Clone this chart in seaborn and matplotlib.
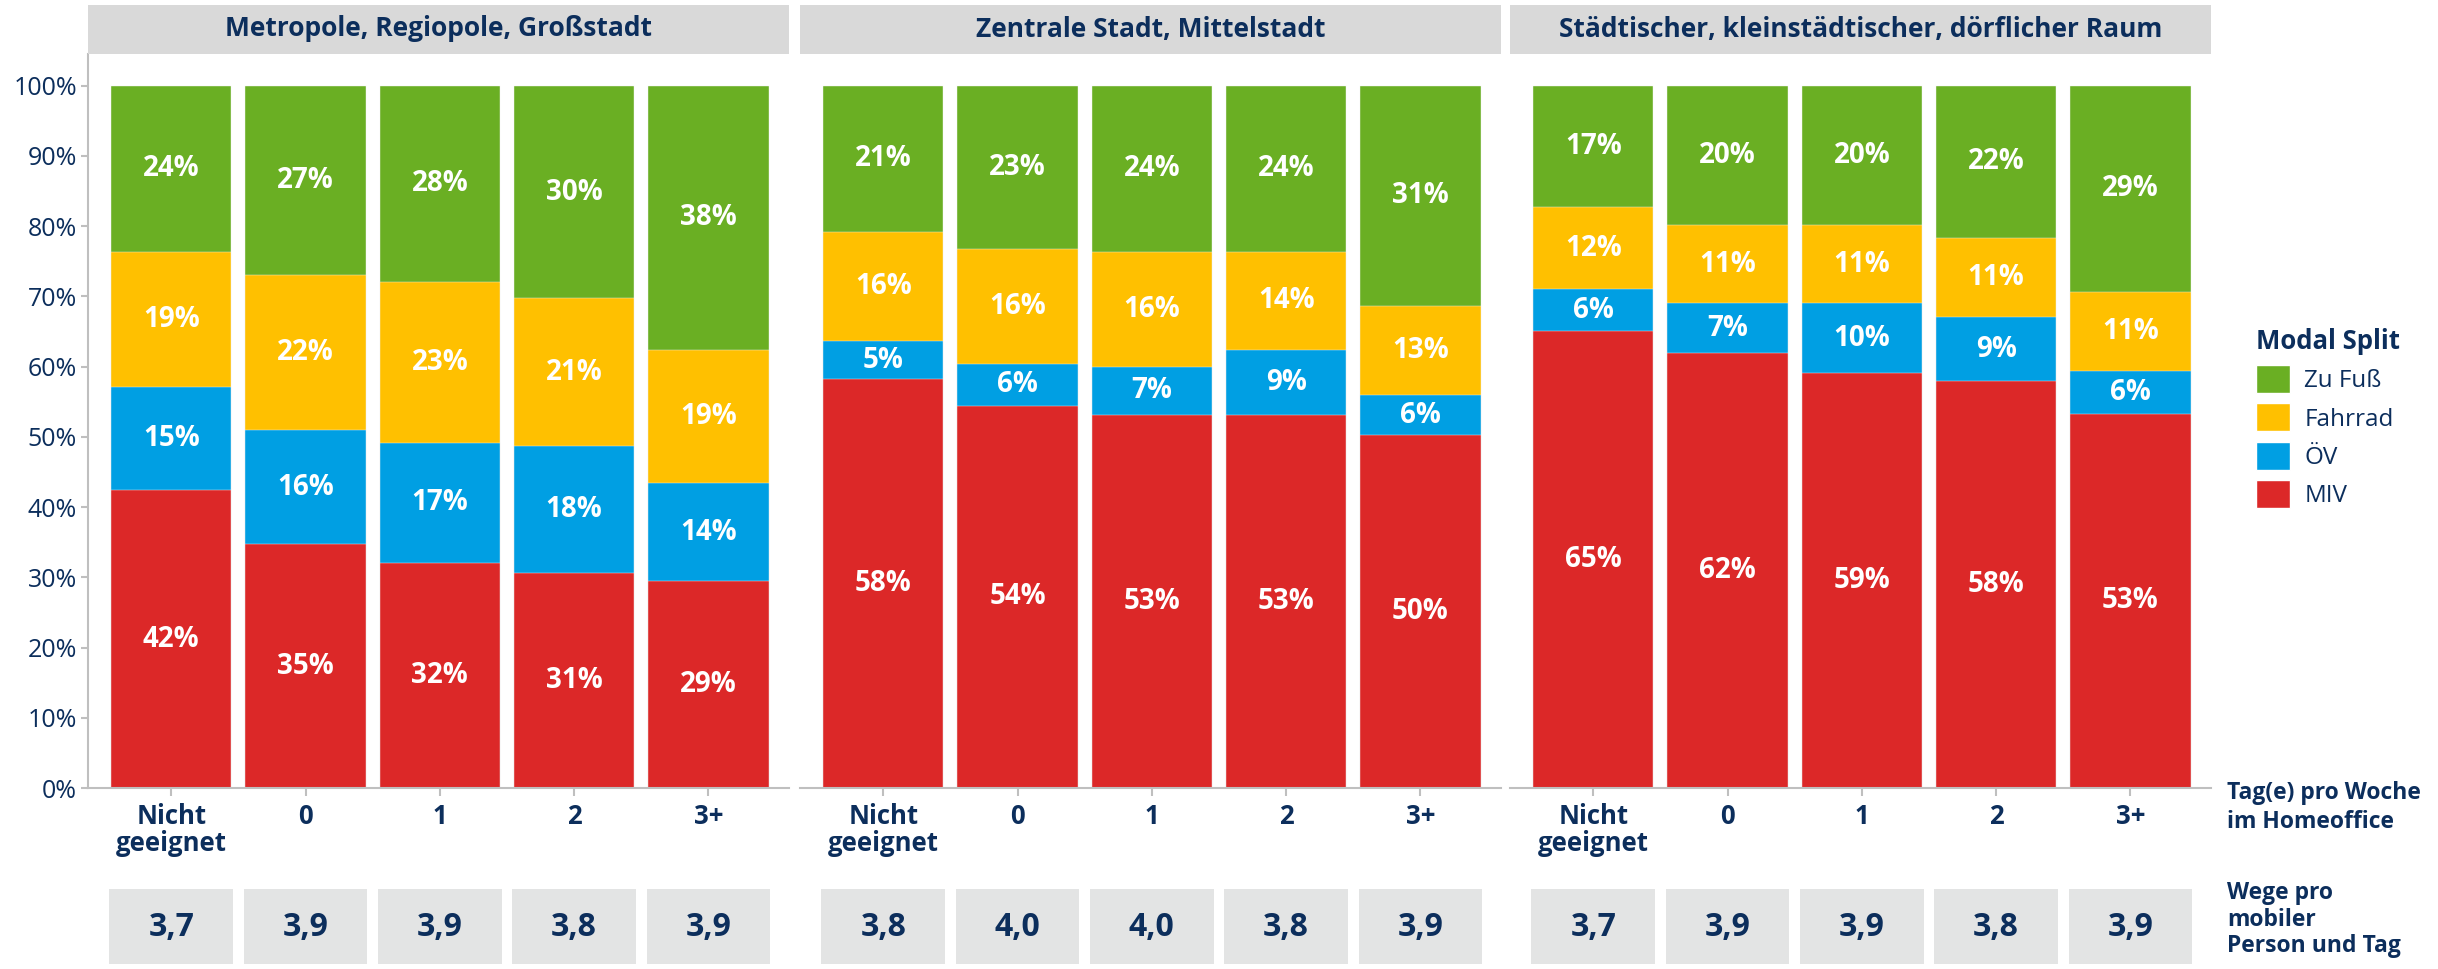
import matplotlib
matplotlib.use("Agg")
import matplotlib.pyplot as plt
import matplotlib.transforms as mtransforms
from matplotlib.patches import Rectangle, Patch
import numpy as np
import pandas as pd
import seaborn as sns

# --- data ---
areas = ["Metropole, Regiopole, Großstadt",
         "Zentrale Stadt, Mittelstadt",
         "Städtischer, kleinstädtischer, dörflicher Raum"]
ho_cats = ["Nicht\ngeeignet", "0", "1", "2", "3+"]
modes = ["MIV", "ÖV", "Fahrrad", "Zu Fuß"]

miv = [[42.4, 34.7, 32.1, 30.6, 29.4],
       [58.2, 54.4, 53.1, 53.1, 50.2],
       [65.0, 61.9, 59.1, 58.0, 53.3]]
oev = [[14.7, 16.2, 17.0, 18.1, 14.0],
       [5.4, 6.0, 6.9, 9.3, 5.8],
       [6.0, 7.1, 9.9, 9.0, 6.0]]
rad = [[19.2, 22.1, 23.0, 21.0, 19.0],
       [15.6, 16.4, 16.3, 13.9, 12.6],
       [11.7, 11.1, 11.1, 11.3, 11.3]]
fuss = [[23.7, 27.0, 27.9, 30.3, 37.6],
        [20.8, 23.2, 23.7, 23.7, 31.4],
        [17.3, 19.9, 19.9, 21.7, 29.4]]
wege = [["3,7", "3,9", "3,9", "3,8", "3,9"],
        ["3,8", "4,0", "4,0", "3,8", "3,9"],
        ["3,7", "3,9", "3,9", "3,8", "3,9"]]

colors = {"MIV": "#DC2828", "ÖV": "#009FE3", "Fahrrad": "#FFC000", "Zu Fuß": "#6AAF23"}
navy = "#0C2E5C"
grey_line = "#BFBFBF"

rows = []
for a, area in enumerate(areas):
    for i, cat in enumerate(ho_cats):
        vals = [miv[a][i], oev[a][i], rad[a][i], fuss[a][i]]
        cum = np.cumsum(vals)
        for m, mode in enumerate(modes):
            rows.append({"area": area, "ho": cat, "mode": mode,
                         "value": vals[m], "cum": cum[m]})
df = pd.DataFrame(rows)

sns.set_theme(style="white")
plt.rcParams["font.family"] = ["Open Sans", "DejaVu Sans"]

W, H = 2438, 969
fig = plt.figure(figsize=(W / 100, H / 100), dpi=100)

panel_x = [88, 800, 1510]
panel_w = 701
ax_bottom, ax_top = 788, 54

for a, area in enumerate(areas):
    ax = fig.add_axes([panel_x[a] / W, (H - ax_bottom) / H,
                       panel_w / W, (ax_bottom - ax_top) / H])
    sub = df[df["area"] == area]
    # overlapping cumulative bars, drawn from the top layer down
    for mode in reversed(modes):
        part = sub[sub["mode"] == mode]
        sns.barplot(data=part, x="ho", y="cum", order=ho_cats, color=colors[mode],
                    saturation=1, width=0.895, errorbar=None, ax=ax,
                    edgecolor="#F4F4F4", linewidth=0.3)
    for _, r in sub.iterrows():
        i = ho_cats.index(r["ho"])
        ax.text(i, r["cum"] - r["value"] / 2, f"{r['value']:.0f}%",
                ha="center", va="center", color="white",
                fontsize=20, fontweight="bold")

    ax.set_xlim(-0.62, 4.6)
    ax.set_ylim(0, 104.5)
    ax.set_xlabel("")
    ax.set_ylabel("")
    for s in ["top", "right"]:
        ax.spines[s].set_visible(False)
    ax.spines["bottom"].set_color(grey_line)
    ax.spines["bottom"].set_linewidth(1.5)
    ax.tick_params(axis="x", bottom=True, length=6, width=1.5, color=grey_line,
                   labelsize=18.5, labelcolor=navy, pad=5)
    for lbl in ax.get_xticklabels():
        lbl.set_fontweight("bold")
        lbl.set_linespacing(1.0)
    ax.set_yticks(np.arange(0, 101, 10))
    if a == 0:
        ax.spines["left"].set_color(grey_line)
        ax.spines["left"].set_linewidth(1.5)
        ax.set_yticklabels([f"{v}%" for v in range(0, 101, 10)])
        ax.tick_params(axis="y", left=True, length=5, width=1.5, color=grey_line,
                       labelsize=18, labelcolor=navy, pad=3)
    else:
        ax.spines["left"].set_visible(False)
        ax.set_yticklabels([])
        ax.tick_params(axis="y", left=False)

    # panel title box
    fig.add_artist(Rectangle((panel_x[a] / W, (H - 54) / H), panel_w / W, 49 / H,
                             transform=fig.transFigure, facecolor="#D9D9D9",
                             edgecolor="none"))
    fig.text((panel_x[a] + panel_w / 2) / W, (H - 29) / H, area, ha="center",
             va="center", color=navy, fontsize=19, fontweight="bold")

    # trips per person boxes
    tr = mtransforms.blended_transform_factory(ax.transData, fig.transFigure)
    for i, v in enumerate(wege[a]):
        ax.add_artist(Rectangle((i - 0.46, 5 / H), 0.92, 75 / H, transform=tr,
                                facecolor="#E3E4E4", edgecolor="none", clip_on=False))
        ax.text(i, 42 / H, v, transform=tr, ha="center", va="center",
                color=navy, fontsize=23, fontweight="bold")

fig.text(2227 / W, (H - 781) / H, "Tag(e) pro Woche\nim Homeoffice", ha="left",
         va="top", color=navy, fontsize=16.5, fontweight="bold", linespacing=1.25)
fig.text(2227 / W, (H - 881) / H, "Wege pro\nmobiler\nPerson und Tag", ha="left",
         va="top", color=navy, fontsize=16.5, fontweight="bold", linespacing=1.15)

handles = [Patch(facecolor=colors[m], label=m) for m in reversed(modes)]
leg = fig.legend(handles=handles, title="Modal Split", loc="upper left",
                 bbox_to_anchor=(2234 / W, (H - 306) / H), frameon=False,
                 fontsize=17.5, title_fontsize=18.5, handlelength=1.4, handleheight=1.4,
                 labelspacing=0.42, handletextpad=0.6, alignment="left")
leg.get_title().set_fontweight("bold")
leg.get_title().set_color(navy)
for t in leg.get_texts():
    t.set_color(navy)

fig.savefig("out.png", dpi=100)
